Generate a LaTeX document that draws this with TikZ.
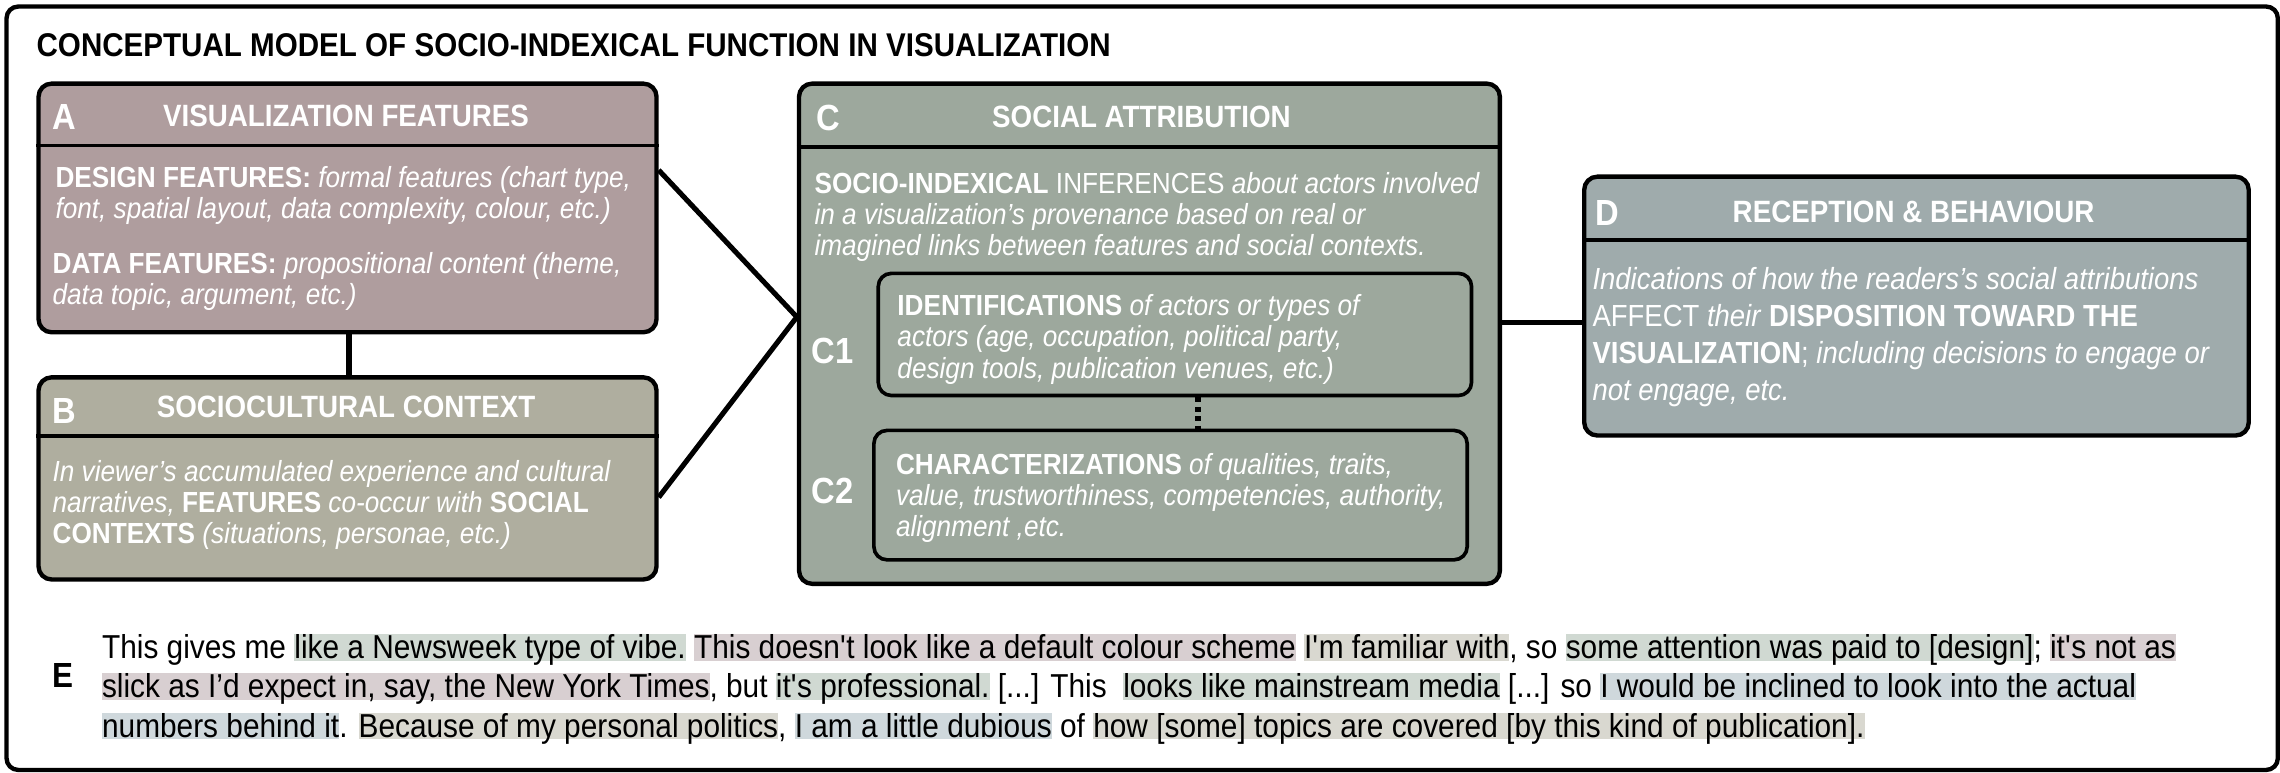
\documentclass[tikz,border=0pt]{standalone}
\usepackage{fontspec}
\setmainfont[FakeStretch=0.9]{Liberation Sans}
\usetikzlibrary{calc}
\definecolor{colA}{HTML}{AF9D9E}
\definecolor{colB}{HTML}{AFAE9F}
\definecolor{colC}{HTML}{9DA89D}
\definecolor{colD}{HTML}{9FABAC}
\definecolor{hlG}{HTML}{D0D9D2}
\definecolor{hlM}{HTML}{D8CFD1}
\definecolor{hlO}{HTML}{D9D8D0}
\definecolor{hlB}{HTML}{CFD8DC}
\newcommand\hlx[2]{\leavevmode\begingroup\sbox0{#2}\rlap{\color{#1}\rule[-0.06em]{\wd0}{0.8em}}\usebox0\endgroup}
\newcommand\sq{\textquotesingle}
\tikzset{
  box/.style={draw=black, line width=3pt, rounded corners=9pt, inner sep=0pt, anchor=north west},
  subbox/.style={draw=black, line width=2.5pt, rounded corners=9pt, inner sep=0pt},
  divider/.style={line width=2.5pt},
  conn/.style={line width=3.5pt},
  hdr/.style={text=white, inner sep=0pt, anchor=base, font=\bfseries\fontsize{21.2}{24}\selectfont},
  letter/.style={text=white, inner sep=0pt, anchor=base west, font=\bfseries\fontsize{25}{28}\selectfont},
  body/.style={text=white, inner sep=0pt, anchor=base west, align=left, font=\fontsize{20}{21.5}\selectfont},
  dbody/.style={text=white, inner sep=0pt, anchor=base west, align=left, font=\fontsize{21}{25.5}\selectfont},
  ebody/.style={text=black, inner sep=0pt, anchor=base west, font=\fontsize{22.8}{27}\selectfont},
}
\begin{document}
\begin{tikzpicture}[x=1pt, y=-1pt]
\useasboundingbox (0,0) rectangle (1568,531);
\node[draw=black, line width=3pt, rounded corners=8pt, minimum width=1562pt, minimum height=525pt, anchor=north west, inner sep=0pt] (frame) at (3,3) {};
\node[inner sep=0pt, anchor=base west, font=\bfseries\fontsize{22.6}{26}\selectfont] (title) at (25,39) {CONCEPTUAL MODEL OF SOCIO-INDEXICAL FUNCTION IN VISUALIZATION};

% Box A
\node[box, fill=colA, minimum width=425pt, minimum height=171pt] (A) at (25,56) {};
\coordinate (ya) at (0,100);
\draw[divider] (A.west |- ya) -- (A.east |- ya);
\node[letter] (Al) at (36,89) {A};
\node[hdr] (Ah) at (238,87) {VISUALIZATION FEATURES};
\node[body] (Ab1) at (38,150.5) {\textbf{DESIGN FEATURES:} \textit{formal features (chart type,}\\\textit{font, spatial layout, data complexity, colour, etc.)}};
\node[body] (Ab2) at (36,209.5) {\textbf{DATA FEATURES:} \textit{propositional content (theme,}\\\textit{data topic, argument, etc.)}};

% Box B
\node[box, fill=colB, minimum width=425pt, minimum height=139pt] (B) at (25,258) {};
\coordinate (yb) at (0,300);
\draw[divider] (B.west |- yb) -- (B.east |- yb);
\node[letter] (Bl) at (36,291) {B};
\node[hdr] (Bh) at (238,287) {SOCIOCULTURAL CONTEXT};
\node[body] (Bb) at (36,374) {\textit{In viewer’s accumulated experience and cultural}\\\textit{narratives,} \textbf{FEATURES} \textit{co-occur with} \textbf{SOCIAL}\\\textbf{CONTEXTS} \textit{(situations, personae, etc.)}};

% Box C
\node[box, fill=colC, minimum width=482pt, minimum height=344pt] (C) at (548,56) {};
\coordinate (yc) at (0,101);
\draw[divider] (C.west |- yc) -- (C.east |- yc);
\node[letter] (Cl) at (561,90) {C};
\node[hdr] (Ch) at (785,88) {SOCIAL ATTRIBUTION};
\node[body] (Cb) at (560,176) {\textbf{SOCIO-INDEXICAL} INFERENCES \textit{about actors involved}\\\textit{in a visualization’s provenance based on real or}\\\textit{imagined links between features and social contexts.}};
\node[subbox, minimum width=408pt, minimum height=84pt] (C1) at (808,230) {};
\node[subbox, minimum width=408pt, minimum height=89pt] (C2) at (805,340.5) {};
\node[letter] (C1l) at (558,250) {C1};
\node[letter] (C2l) at (558,346) {C2};
\node[body] (C1b) at (617,260) {\textbf{IDENTIFICATIONS} \textit{of actors or types of}\\\textit{actors (age, occupation, political party,}\\\textit{design tools, publication venues, etc.)}};
\node[body] (C2b) at (616,369) {\textbf{CHARACTERIZATIONS} \textit{of qualities, traits,}\\\textit{value, trustworthiness, competencies, authority,}\\\textit{alignment ,etc.}};
\coordinate (dx) at (824,0);
\draw[line width=4pt, dash pattern=on 3.5pt off 3pt] (C1.south -| dx) -- (C2.north -| dx);

% Box D
\node[box, fill=colD, minimum width=457pt, minimum height=178pt] (D) at (1088,120) {};
\coordinate (yd) at (0,165);
\draw[divider] (D.west |- yd) -- (D.east |- yd);
\node[letter] (Dl) at (1097,155) {D};
\node[hdr] (Dh) at (1316,153) {RECEPTION \& BEHAVIOUR};
\node[dbody] (Db) at (1095,275.5) {\textit{Indications of how the readers’s social attributions}\\AFFECT \textit{their} \textbf{DISPOSITION TOWARD THE}\\\textbf{VISUALIZATION}; \textit{including decisions to engage or}\\\textit{not engage, etc.}};

% connectors
\coordinate (ab) at (240,0);
\draw[conn] (A.south -| ab) -- (B.north -| ab);
\coordinate (ca) at (0,218);
\coordinate (aa) at (0,117);
\coordinate (bb) at (0,342);
\coordinate (cd) at (0,222);
\draw[conn] (A.east |- aa) -- (C.west |- ca) -- (B.east |- bb);
\draw[conn] (C.east |- cd) -- (D.west |- cd);

% E
\node[inner sep=0pt, anchor=base west, font=\bfseries\fontsize{24}{26}\selectfont] (E) at (36,473) {E};
\node[ebody] (E1) at (70,453) {This gives me \hlx{hlG}{like a Newsweek type of vibe.} \hlx{hlM}{This doesn\sq t look like a default colour scheme} \hlx{hlO}{I\sq m familiar with}, so \hlx{hlG}{some attention was paid to [design]}; \hlx{hlM}{it\sq s not as}};
\node[ebody] (E2) at (70,480) {\hlx{hlM}{slick as I’d expect in, say, the New York Times}, but \hlx{hlG}{it\sq s professional.} [...] This\ \ \hlx{hlG}{looks like mainstream media} [...] so \hlx{hlB}{I would be inclined to look into the actual}};
\node[ebody] (E3) at (70,507) {\hlx{hlB}{numbers behind it}. \hlx{hlO}{Because of my personal politics}, \hlx{hlB}{I am a little dubious} of \hlx{hlO}{how [some] topics are covered [by this kind of publication].}};
\end{tikzpicture}
\end{document}
